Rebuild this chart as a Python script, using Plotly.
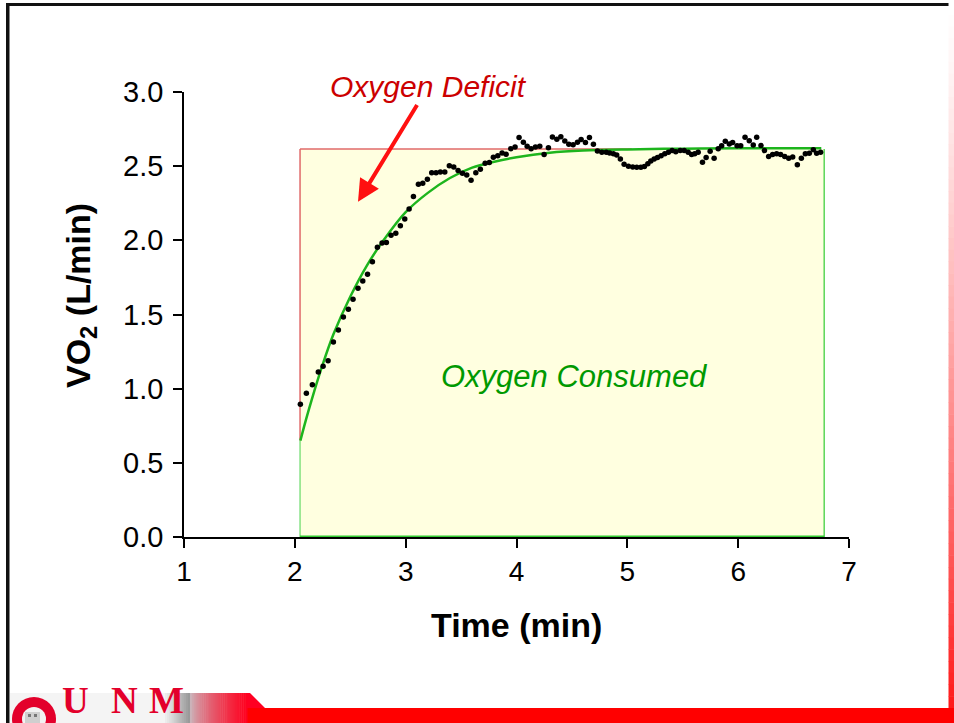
import plotly.graph_objects as go

# ---------------- data ----------------
time_obs = [2.05, 2.104, 2.158, 2.212, 2.255, 2.30, 2.348, 2.393, 2.438, 2.483, 2.525, 2.57,
            2.613, 2.656, 2.70, 2.745, 2.787, 2.826, 2.868, 2.911, 2.952, 2.992, 3.031, 3.07,
            3.115, 3.154, 3.196, 3.235, 3.274, 3.313, 3.353, 3.394, 3.434, 3.473, 3.512, 3.551,
            3.59, 3.633, 3.674, 3.717, 3.755, 3.791, 3.831, 3.87, 3.906, 3.948, 3.987, 4.023,
            4.062, 4.096, 4.132, 4.171, 4.21, 4.249, 4.288, 4.324, 4.364, 4.40, 4.436, 4.472,
            4.511, 4.55, 4.583, 4.622, 4.658, 4.694, 4.73, 4.77, 4.81, 4.84, 4.874, 4.904,
            4.937, 4.971, 5.01, 5.049, 5.085, 5.122, 5.154, 5.185, 5.212, 5.242, 5.272, 5.305,
            5.338, 5.371, 5.404, 5.437, 5.477, 5.513, 5.549, 5.58, 5.608, 5.639, 5.678, 5.711,
            5.747, 5.783, 5.82, 5.851, 5.884, 5.92, 5.95, 5.99, 6.023, 6.062, 6.10, 6.136,
            6.167, 6.206, 6.237, 6.275, 6.311, 6.347, 6.383, 6.42, 6.456, 6.492, 6.534, 6.57,
            6.606, 6.642, 6.678, 6.708, 6.744]
vo2_obs = [0.895, 0.969, 1.027, 1.113, 1.151, 1.189, 1.315, 1.396, 1.483, 1.535, 1.603, 1.677,
           1.726, 1.771, 1.856, 1.953, 1.982, 1.985, 2.034, 2.048, 2.099, 2.144, 2.212, 2.295,
           2.378, 2.385, 2.412, 2.456, 2.456, 2.461, 2.461, 2.502, 2.495, 2.47, 2.452, 2.441,
           2.405, 2.456, 2.479, 2.52, 2.524, 2.56, 2.571, 2.589, 2.581, 2.618, 2.63, 2.693,
           2.661, 2.634, 2.618, 2.63, 2.634, 2.578, 2.625, 2.697, 2.682, 2.699, 2.67, 2.648,
           2.645, 2.661, 2.679, 2.659, 2.693, 2.648, 2.603, 2.594, 2.594, 2.589, 2.583, 2.576,
           2.549, 2.513, 2.50, 2.495, 2.493, 2.493, 2.497, 2.517, 2.535, 2.549, 2.558, 2.571,
           2.583, 2.594, 2.605, 2.598, 2.605, 2.605, 2.594, 2.578, 2.583, 2.594, 2.527, 2.558,
           2.601, 2.554, 2.618, 2.637, 2.668, 2.65, 2.659, 2.637, 2.637, 2.695, 2.672, 2.643,
           2.695, 2.639, 2.605, 2.565, 2.578, 2.583, 2.578, 2.565, 2.554, 2.562, 2.51, 2.554,
           2.583, 2.587, 2.61, 2.587, 2.594]

time_fit = [2.05, 2.10, 2.15, 2.25, 2.35, 2.5, 2.65, 2.8, 3.0, 3.2, 3.4, 3.6, 3.8, 4.0,
            4.3, 4.6, 5.0, 5.5, 6.0, 6.75]
vo2_fit = [0.65, 0.79, 0.92, 1.16, 1.37, 1.62, 1.83, 2.00, 2.19, 2.32, 2.42, 2.49, 2.53,
           2.56, 2.59, 2.605, 2.613, 2.618, 2.62, 2.62]

exercise_start = 2.047
exercise_end = 6.776
steady_state = 2.616
deficit_top_end = 5.04

# arrow: tip and label anchor (data units)
deficit_arrow_tip = (2.57, 2.26)
deficit_label_pos = (3.202, 3.034)

x_ticks = [1, 2, 3, 4, 5, 6, 7]
y_ticks = [0.0, 0.5, 1.0, 1.5, 2.0, 2.5, 3.0]

# ---------------- figure ----------------
W, H = 954, 723
L, R, T, B = 184, 105, 92, 186
PW, PH = W - L - R, H - T - B

def px(x):
    return (x - L) / PW

def py(y):
    return (H - B - y) / PH

fig = go.Figure()

FONT = "Liberation Sans, Arial, sans-serif"
SERIF = "Liberation Serif, Times New Roman, serif"

shapes = [
    dict(type="rect", xref="x", yref="y", x0=exercise_start, x1=exercise_end, y0=0, y1=steady_state,
         fillcolor="#FFFFE0", line=dict(width=0), layer="below"),
    dict(type="line", xref="x", yref="y", x0=exercise_start, x1=exercise_start, y0=vo2_fit[0], y1=steady_state,
         line=dict(color="#E06A6A", width=1.5), layer="below"),
    dict(type="line", xref="x", yref="y", x0=exercise_start, x1=deficit_top_end, y0=steady_state, y1=steady_state,
         line=dict(color="#E06A6A", width=1.5), layer="below"),
    dict(type="line", xref="x", yref="y", x0=exercise_start, x1=exercise_start, y0=0, y1=vo2_fit[0],
         line=dict(color="#66D966", width=1.2), layer="below"),
    dict(type="line", xref="x", yref="y", x0=exercise_end, x1=exercise_end, y0=0, y1=steady_state,
         line=dict(color="#33CC33", width=1.2), layer="below"),
    dict(type="line", xref="x", yref="y", x0=exercise_start, x1=exercise_end, y0=0.005, y1=0.005,
         line=dict(color="#33CC33", width=1.5), layer="below"),
]

def prect(x0, y0, x1, y1, color):
    return dict(type="rect", xref="paper", yref="paper", x0=px(x0), x1=px(x1), y0=py(y1), y1=py(y0),
                fillcolor=color, line=dict(width=0), layer="above")

def lerp(c0, c1, t):
    return "rgb(%d,%d,%d)" % tuple(round(a + (b - a) * t) for a, b in zip(c0, c1))

# top & left black frame lines
shapes.append(prect(6, 3, 950, 6, "#111111"))
shapes.append(prect(6, 3, 9.5, 723, "#111111"))
# right vertical gradient bar
n = 60
for i in range(n):
    y0 = 3 + (708 - 3) * i / n
    y1 = 3 + (708 - 3) * (i + 1) / n
    t = (i + 0.5) / n
    shapes.append(prect(948.5, y0, 954, y1 + 0.5, lerp((255, 255, 255), (255, 25, 25), t ** 1.3)))
# bottom red bar
shapes.append(prect(247, 708, 954, 723, "#FF0000"))
# logo band
shapes.append(prect(10, 693, 165, 723, "#F4F4F4"))
m = 12
for i in range(m):
    x0 = 165 + 25 * i / m
    shapes.append(prect(x0, 693, x0 + 25 / m + 0.5, 723, lerp((240, 240, 240), (150, 150, 150), (i + 0.5) / m)))
m = 30
for i in range(m):
    x0 = 190 + 57 * i / m
    shapes.append(prect(x0, 693, x0 + 57 / m + 0.5, 723, lerp((200, 190, 195), (255, 0, 30), ((i + 0.5) / m) ** 0.7)))
shapes.append(dict(type="path", xref="paper", yref="paper",
                   path="M %f %f L %f %f L %f %f L %f %f Z" % (px(246.5), py(693), px(250), py(693),
                                                              px(265), py(708), px(246.5), py(708)),
                   fillcolor="#FF0022", line=dict(width=0), layer="above"))
# red dome icon
shapes.append(dict(type="circle", xref="paper", yref="paper", x0=px(12), x1=px(56), y0=py(741), y1=py(697),
                   fillcolor="#E3002B", line=dict(width=0), layer="above"))
shapes.append(dict(type="circle", xref="paper", yref="paper", x0=px(22), x1=px(46), y0=py(731), y1=py(707),
                   fillcolor="#F2F2F2", line=dict(width=0), layer="above"))
shapes.append(prect(25, 712, 40, 723, "#CFCFCF"))
shapes.append(prect(28, 714, 31, 717, "#777777"))
shapes.append(prect(34, 714, 37, 717, "#777777"))

fig.update_layout(shapes=shapes)

fig.add_trace(go.Scatter(x=time_fit, y=vo2_fit, mode="lines",
                         line=dict(color="#1DB51D", width=2.5, shape="spline"),
                         hoverinfo="skip", showlegend=False, cliponaxis=False))
fig.add_trace(go.Scatter(x=time_obs, y=vo2_obs, mode="markers",
                         marker=dict(color="black", size=5.5), showlegend=False, cliponaxis=False))

annotations = [
    dict(x=deficit_arrow_tip[0], y=deficit_arrow_tip[1], ax=deficit_label_pos[0], ay=deficit_label_pos[1],
         xref="x", yref="y", axref="x", ayref="y",
         text="<i>Oxygen Deficit</i>", font=dict(family=FONT, size=30, color="#CC0000"),
         showarrow=True, arrowhead=2, arrowsize=1.1, arrowwidth=4, arrowcolor="#FF1010",
         standoff=0, startstandoff=0),
    dict(x=px(574), y=py(376), xref="paper", yref="paper", text="<i>Oxygen Consumed</i>", showarrow=False,
         font=dict(family=FONT, size=31, color="#009900"), xanchor="center", yanchor="middle"),
    dict(x=px(80), y=py(296), xref="paper", yref="paper", text="<b>VO<sub>2</sub> (L/min)</b>",
         showarrow=False, textangle=-90, font=dict(family=FONT, size=34, color="black"),
         xanchor="center", yanchor="middle"),
    dict(x=px(516), y=py(625), xref="paper", yref="paper", text="<b>Time (min)</b>",
         showarrow=False, font=dict(family=FONT, size=34, color="black"),
         xanchor="center", yanchor="middle"),
]
for letter, cx in (("U", 76), ("N", 124), ("M", 166)):
    annotations.append(dict(x=px(cx), y=py(723), xref="paper", yref="paper", text="<b>%s</b>" % letter,
                            showarrow=False, font=dict(family=SERIF, size=37, color="#E3002B"),
                            xanchor="center", yanchor="bottom"))
fig.update_layout(annotations=annotations)

fig.update_layout(
    width=W, height=H,
    margin=dict(l=L, r=R, t=T, b=B, pad=0),
    paper_bgcolor="white", plot_bgcolor="white",
    font=dict(family=FONT, color="black"),
    xaxis=dict(range=[1, 7], tickvals=x_ticks, ticktext=[str(v) for v in x_ticks],
               showgrid=False, zeroline=False, showline=True, linecolor="black", linewidth=1.5,
               ticks="outside", ticklen=9, tickwidth=1.5, tickcolor="black",
               tickfont=dict(size=28, family=FONT)),
    yaxis=dict(range=[0, 3], tickvals=y_ticks, ticktext=["%.1f" % v for v in y_ticks],
               showgrid=False, zeroline=False, showline=True, linecolor="black", linewidth=1.5,
               ticks="outside", ticklen=9, tickwidth=1.5, tickcolor="black",
               tickfont=dict(size=29, family=FONT), ticklabelstandoff=4),
)

fig.write_html("out.html")
